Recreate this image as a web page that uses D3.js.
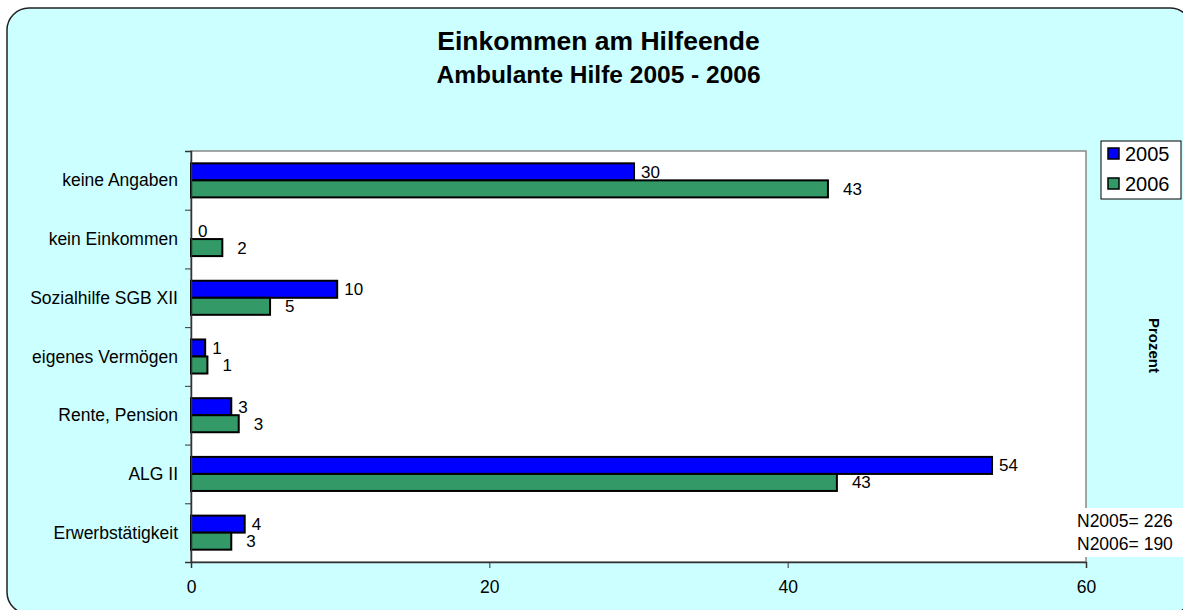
<!DOCTYPE html>
<html><head><meta charset="utf-8">
<script src="https://cdn.jsdelivr.net/npm/d3@7/dist/d3.min.js"></script>
<style>body{margin:0;background:#fff}svg{display:block;font-family:"Liberation Sans",Arial,sans-serif}</style>
</head><body>
<svg id="c" width="1183" height="610"></svg>
<script>
const categories = ["keine Angaben","kein Einkommen","Sozialhilfe SGB XII","eigenes Vermögen","Rente, Pension","ALG II","Erwerbstätigkeit"];
const series = ["2005","2006"];
const values2005 = [29.7, 0, 9.8, 0.95, 2.7, 53.7, 3.6];
const values2006 = [42.7, 2.1, 5.3, 1.1, 3.2, 43.3, 2.7];
const labels2005 = ["30","0","10","1","3","54","4"];
const labels2006 = ["43","2","5","1","3","43","3"];
const xTicks = [0, 20, 40, 60];
const colors = {"2005":"#0000FF","2006":"#339966"};

(function(){
const svg = d3.select("#c");
svg.append("rect").attr("x",7).attr("y",8).attr("width",1185).attr("height",606)
  .attr("rx",22).attr("fill","#CCFFFF").attr("stroke","#222").attr("stroke-width",1.5);

svg.append("text").attr("x",598.5).attr("y",50).attr("text-anchor","middle")
  .attr("font-size",26.5).attr("font-weight","bold").text("Einkommen am Hilfeende");
svg.append("text").attr("x",598.5).attr("y",83).attr("text-anchor","middle")
  .attr("font-size",24.5).attr("font-weight","bold").text("Ambulante Hilfe 2005 - 2006");

const pL = 191, pR = 1086, pT = 151, pB = 562;
const x = d3.scaleLinear().domain([0,60]).range([pL,pR]);
const y = d3.scaleBand().domain(categories).range([pT,pB]).paddingInner(0.42).paddingOuter(0.21);
const ys = d3.scaleBand().domain(series).range([0,y.bandwidth()]);

svg.append("rect").attr("x",pL).attr("y",pT).attr("width",pR-pL).attr("height",pB-pT)
  .attr("fill","#fff").attr("stroke","#888").attr("stroke-width",1.5);

const data = [];
categories.forEach((c,i)=>{
  data.push({c, s:"2005", v:values2005[i], l:labels2005[i]});
  data.push({c, s:"2006", v:values2006[i], l:labels2006[i]});
});

const bars = data.filter(d=>d.v>0);
svg.append("g").selectAll("rect").data(bars).join("rect")
  .attr("x",x(0)).attr("y",d=>y(d.c)+ys(d.s))
  .attr("width",d=>x(d.v)-x(0)).attr("height",ys.bandwidth())
  .attr("fill",d=>colors[d.s]).attr("stroke","#000").attr("stroke-width",2);

svg.append("g").selectAll("text").data(data).join("text")
  .attr("x",d=>x(d.v)+(d.s==="2005"?7:15))
  .attr("y",d=>y(d.c)+ys(d.s)+ys.bandwidth()/2)
  .attr("dy","0.35em").attr("font-size",17).text(d=>d.l);

const yAxis = svg.append("g").attr("transform",`translate(${pL},0)`)
  .call(d3.axisLeft(d3.scaleLinear().domain([0,7]).range([pB,pT])).ticks(7).tickSize(6).tickFormat(""));
yAxis.select(".domain").attr("stroke","#333").attr("stroke-width",1.5);
yAxis.selectAll(".tick line").attr("stroke","#333");

svg.append("g").selectAll("text").data(categories).join("text")
  .attr("x",178).attr("y",d=>y(d)+y.bandwidth()/2).attr("dy","0.35em")
  .attr("text-anchor","end").attr("font-size",17.5).text(d=>d);

const xAxis = svg.append("g").attr("transform",`translate(0,${pB})`)
  .call(d3.axisBottom(x).tickValues(xTicks).tickSize(6).tickPadding(13));
xAxis.select(".domain").attr("stroke","#333").attr("stroke-width",1.5);
xAxis.selectAll(".tick line").attr("stroke","#333");
xAxis.selectAll(".tick text").attr("font-size",17.5).attr("font-family","'Liberation Sans',Arial,sans-serif").attr("fill","#000");

const lg = svg.append("g");
lg.append("rect").attr("x",1101).attr("y",141).attr("width",80).attr("height",58)
  .attr("fill","#fff").attr("stroke","#000").attr("stroke-width",1);
series.forEach((s,i)=>{
  lg.append("rect").attr("x",1108).attr("y",148+i*30).attr("width",11).attr("height",11)
    .attr("fill",colors[s]).attr("stroke","#000").attr("stroke-width",1.5);
  lg.append("text").attr("x",1125).attr("y",153.5+i*30).attr("dy","0.35em")
    .attr("font-size",20).text(s);
});

svg.append("text").attr("transform","translate(1149,345.5) rotate(90)")
  .attr("text-anchor","middle").attr("font-size",15).attr("font-weight","bold").text("Prozent");

svg.append("rect").attr("x",1075).attr("y",508).attr("width",108).attr("height",49).attr("fill","#fff");
svg.append("text").attr("x",1077).attr("y",527).attr("font-size",17.5).text("N2005= 226");
svg.append("text").attr("x",1077).attr("y",550).attr("font-size",17.5).text("N2006= 190");
})();
</script>
</body></html>
